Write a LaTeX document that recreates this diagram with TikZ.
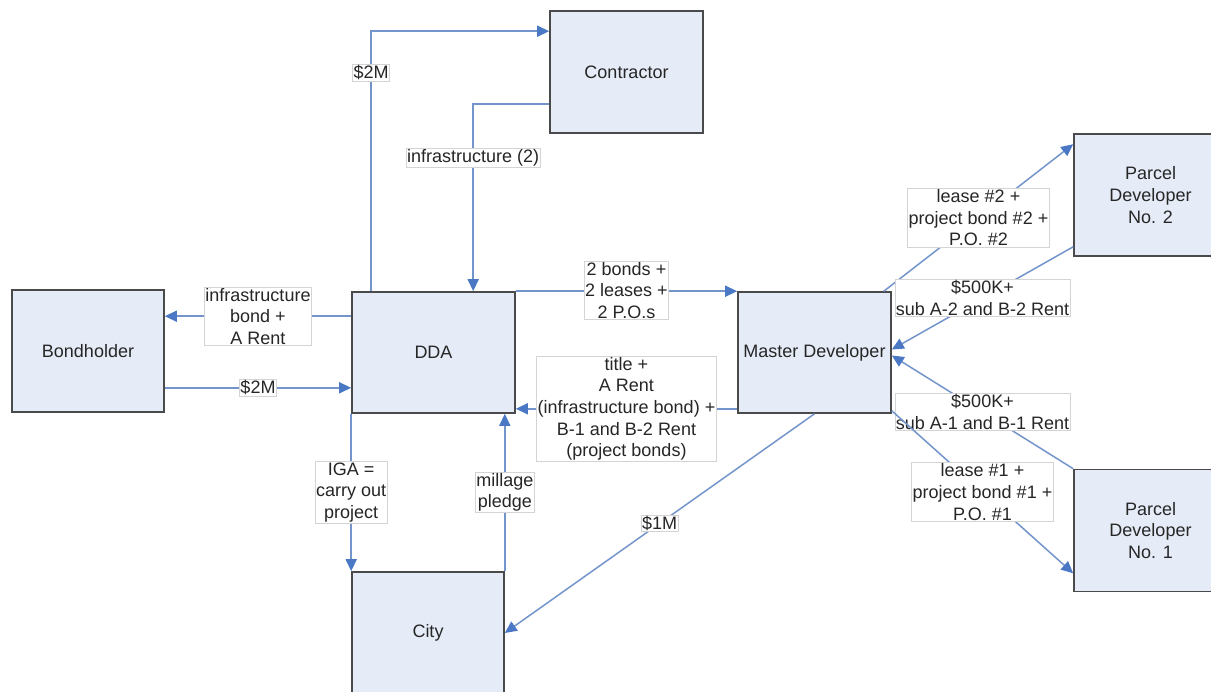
\documentclass[tikz,border=0pt]{standalone}
\usepackage{fontspec}
\setmainfont{Liberation Sans}
\usetikzlibrary{arrows.meta,calc}
\definecolor{boxfill}{HTML}{E6ECF7}
\definecolor{boxdraw}{HTML}{4A4A4A}
\definecolor{linec}{HTML}{7395CC}
\definecolor{tipc}{HTML}{4A78C4}
\definecolor{lblc}{HTML}{D4D4D4}
\definecolor{txtc}{HTML}{262626}
\tikzset{
 box/.style={draw=boxdraw, line width=1.6pt, fill=boxfill, text=txtc, font=\fontsize{18}{21.6}\selectfont, align=center, inner sep=0pt},
 lbl/.style={draw=lblc, line width=0.8pt, fill=white, text=txtc, font=\fontsize{18}{21.6}\selectfont, align=center, inner xsep=1pt, inner ysep=1pt},
 flow/.style={draw=linec, line width=1.5pt, -{Triangle[length=12pt,width=11pt,color=tipc]}},
}
\begin{document}
\begin{tikzpicture}[x=1pt,y=-1pt]
\fill[white] (0,0) rectangle (1211,692);
\useasboundingbox (0,0) rectangle (1211,692);
% boxes
\node[box, minimum width=153, minimum height=122] (contractor) at (626.5,72) {Contractor};
\node[box, minimum width=152, minimum height=122] (bond) at (88,351) {Bondholder};
\node[box, minimum width=163, minimum height=121] (dda) at (433.5,352.5) {DDA};
\node[box, minimum width=153, minimum height=121] (md) at (814.5,352.5) {Master Developer};
\node[box, minimum width=153, minimum height=122] (pd2) at (1150.5,195) {Parcel\\Developer\\No. 2};
\node[box, minimum width=153, minimum height=122] (pd1) at (1150.5,530.5) {Parcel\\Developer\\No. 1};
\node[box, minimum width=152, minimum height=122] (city) at (428,633) {City};
% connectors
\draw[flow] ($(dda.north west)+(20,0)$) |- ($(contractor.north west)+(0,21)$)
  node[lbl, pos=0.42] {\$2M};
\draw[flow] ($(contractor.south west)+(0,-30)$) -| ($(dda.north west)+(122,0)$)
  node[lbl, pos=0.645] {infrastructure (2)};
\draw[flow] ($(dda.north west)+(0,25)$) -- ($(bond.north east)+(0,27)$)
  node[lbl, midway] {infrastructure\\bond +\\A Rent};
\draw[flow] ($(bond.south east)+(0,-25)$) -- ($(dda.south west)+(0,-26)$)
  node[lbl, midway] {\$2M};
\draw[flow] (dda.north east) -- (md.north west)
  node[lbl, midway, yshift=1pt] {2 bonds +\\2 leases +\\2 P.O.s};
\draw[flow] ($(md.south west)+(0,-5)$) -- ($(dda.south east)+(0,-5)$)
  node[lbl, midway] {title +\\A Rent\\(infrastructure bond) +\\B-1 and B-2 Rent\\(project bonds)};
\draw[flow] (dda.south west) -- (city.north west)
  node[lbl, midway] {IGA =\\carry out\\project};
\draw[flow] (city.north east) -- (city.north east |- dda.south)
  node[lbl, midway] {millage\\pledge};
\draw[flow] (md.south) -- (city.east)
  node[lbl, midway] {\$1M};
\draw[flow] ($(md.north east)+(-8,0)$) -- ($(pd2.north west)+(0,11)$)
  node[lbl, midway] {lease \#2 +\\project bond \#2 +\\P.O. \#2};
\draw[flow] ($(pd2.south west)+(0,-10)$) -- ($(md.east)+(0,-3)$)
  node[lbl, midway] {\$500K+\\sub A-2 and B-2 Rent};
\draw[flow] (pd1.north west) -- ($(md.east)+(0,3)$)
  node[lbl, midway] {\$500K+\\sub A-1 and B-1 Rent};
\draw[flow] ($(md.south east)+(0,-3)$) -- ($(pd1.south west)+(0,-19)$)
  node[lbl, midway] {lease \#1 +\\project bond \#1 +\\P.O. \#1};
\end{tikzpicture}
\end{document}
